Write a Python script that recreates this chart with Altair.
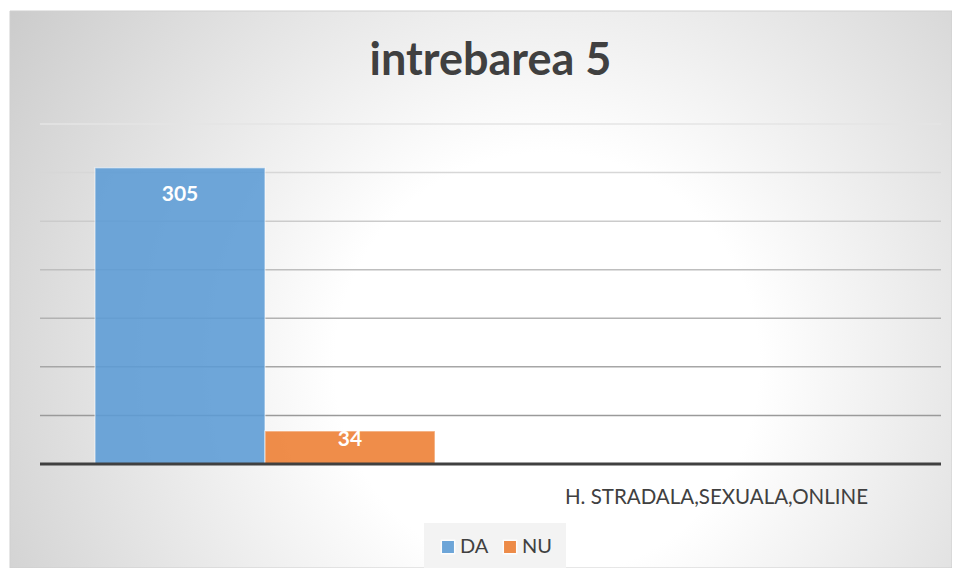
import altair as alt
import pandas as pd

# ---- data ----
title_text = "intrebarea 5"
category = ["H. STRADALA,SEXUALA,ONLINE"]
series = ["DA", "NU"]
values = [305, 34]
colors = ["#5b9bd5", "#ed7d31"]
grid_values = [50, 100, 150, 200, 250, 300, 350]

df = pd.DataFrame({"series": series, "value": values, "category": category * len(series)})
grid_df = pd.DataFrame({"g": grid_values})

W, H = 901, 340
PAD = {"left": 32, "top": 116, "right": 11, "bottom": 104}
FONT = "Lato"

yscale = alt.Scale(domain=[0, 350], nice=False)

bg = alt.Chart(alt.Data(values=[{"bg": 1}])).mark_rect(
    color={
        "gradient": "radial",
        "x1": 0.57, "y1": 0.58, "r1": 0.0,
        "x2": 0.57, "y2": 0.58, "r2": 0.75,
        "stops": [
            {"offset": 0.0, "color": "#ffffff"},
            {"offset": 0.3, "color": "#ffffff"},
            {"offset": 1.0, "color": "#c4c4c4"},
        ],
    },
    stroke="#cfcfcf",
    strokeWidth=1,
    clip=False,
).encode(
    x=alt.value(-30), x2=alt.value(W + PAD["right"]),
    y=alt.value(-113), y2=alt.value(H + PAD["bottom"]),
)

grid = alt.Chart(grid_df).mark_rule(strokeWidth=1.5).encode(
    y=alt.Y("g:Q", scale=yscale),
    x=alt.value(0), x2=alt.value(W),
    stroke=alt.Stroke("g:Q", scale=alt.Scale(domain=[50, 350], range=["#9a9a9a", "#e4e4e4"]), legend=None),
)

base = alt.Chart(df)

bars = base.mark_bar(fillOpacity=0.88, stroke="white", strokeOpacity=0.45, strokeWidth=1.5).encode(
    x=alt.X(
        "series:N",
        sort=series,
        scale=alt.Scale(domain=series, range=[55, 395], paddingInner=0, paddingOuter=0),
        axis=alt.Axis(
            labels=False, ticks=False, domain=False, grid=False, zindex=1,
            title=category[0],
            titleX=676, titleY=39,
            titleFont=FONT, titleFontSize=20.5, titleFontWeight="normal",
            titleColor="#404040", titleBaseline="alphabetic", titleAlign="center",
        ),
    ),
    y=alt.Y(
        "value:Q",
        scale=yscale,
        axis=alt.Axis(labels=False, ticks=False, domain=False, title=None, grid=False),
    ),
    color=alt.Color(
        "series:N",
        scale=alt.Scale(domain=series, range=colors),
        legend=alt.Legend(
            title=None, orient="none", direction="horizontal",
            legendX=384, legendY=399,
            symbolType="square", symbolSize=180, symbolStrokeWidth=1.5,
            symbolStrokeColor="white", symbolOpacity=0.88,
            labelFont=FONT, labelFontSize=20, labelColor="#404040",
            labelOffset=2, columnPadding=11, padding=14,
            fillColor="#f3f3f3",
        ),
    ),
)

lab_common = dict(font=FONT, fontWeight="bold", fontSize=21, color="white", baseline="middle", align="center")
lab1 = base.transform_filter(alt.datum.series == series[0]).mark_text(dy=27, **lab_common).encode(
    x=alt.X("series:N", sort=series), y=alt.Y("value:Q"), text=alt.Text("value:Q")
)
lab2 = base.transform_filter(alt.datum.series == series[1]).mark_text(dy=9, **lab_common).encode(
    x=alt.X("series:N", sort=series), y=alt.Y("value:Q"), text=alt.Text("value:Q")
)

baseline = alt.Chart(alt.Data(values=[{"bg": 1}])).mark_rule(color="#404040", strokeWidth=3).encode(
    x=alt.value(0), x2=alt.value(W), y=alt.datum(0, scale=yscale)
)

chart = alt.layer(bg, grid, bars, baseline, lab1, lab2).properties(
    width=W, height=H,
    autosize="none",
    padding=PAD,
    title=alt.TitleParams(
        title_text, font=FONT, fontSize=45, fontWeight="bold", color="#404040",
        anchor="middle", baseline="alphabetic", offset=-109,
    ),
).configure_view(stroke=None).configure(background="white")

chart.save("out.html", embed_options={"renderer": "svg", "actions": False})
